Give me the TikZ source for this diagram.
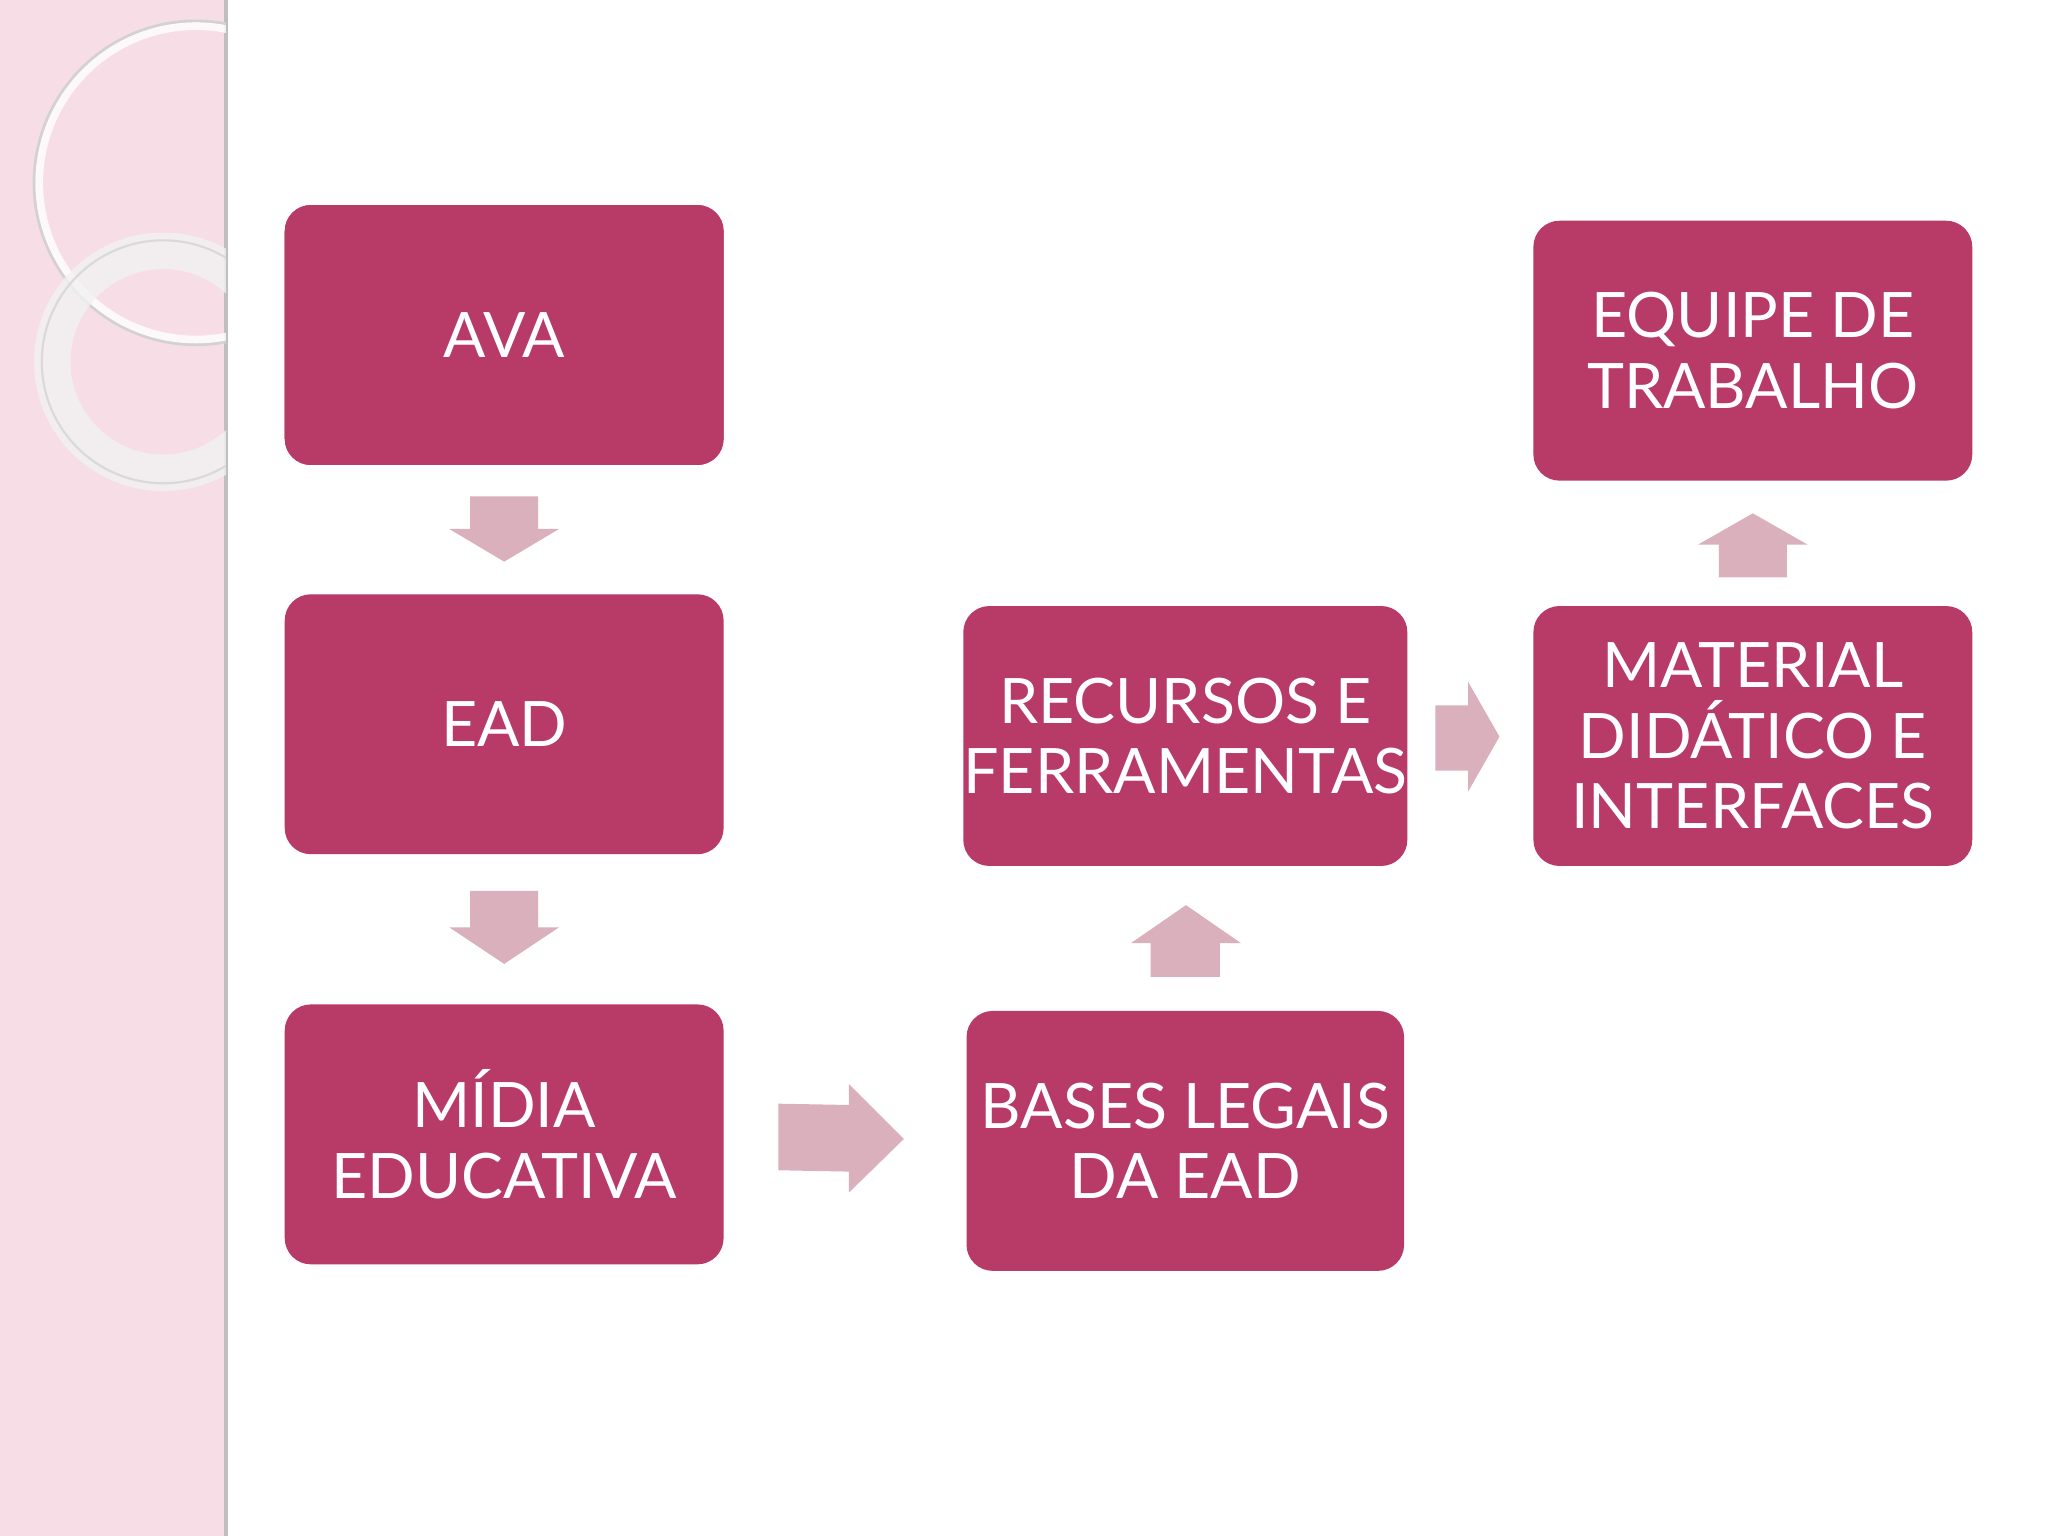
\documentclass[tikz,border=0pt]{standalone}
\usepackage{fontspec}
\setmainfont{Lato}
\definecolor{boxc}{HTML}{B83A66}
\definecolor{arrc}{HTML}{D9B0BC}
\definecolor{stripc}{HTML}{F6DDE6}
\begin{document}
\begin{tikzpicture}[x=0.5pt,y=-0.5pt,
  box/.style={fill=boxc,rounded corners=10pt,text=white,align=center,font=\fontsize{24}{27}\selectfont,inner sep=0pt},
  arr/.style={fill=arrc,draw=none}]
\useasboundingbox (0,0) rectangle (1568,1176);
\fill[white] (0,0) rectangle (1568,1176);
\fill[stripc] (0,0) rectangle (173,1176);
\draw[gray!50,line width=1.5pt] (173,0) -- (173,1176);
\begin{scope}
\clip (0,0) rectangle (173,1176);
\draw[white,line width=3pt,opacity=0.8] (150,140) circle [radius=120];
\draw[gray!35,line width=1pt] (150,140) circle [radius=124];
\draw[white!90!gray,line width=14pt,opacity=0.8] (125,277) circle [radius=85];
\draw[gray!30,line width=0.8pt] (125,277) circle [radius=93];
\end{scope}
\fill[box] (218,157) rectangle (554,356) coordinate (dummy);
\node[box,minimum width=168pt,minimum height=99.5pt] (ava) at (386,256.5) {AVA};
\node[box,minimum width=168pt,minimum height=99.5pt] (ead) at (386,554.5) {EAD};
\node[box,minimum width=168pt,minimum height=99.5pt] (midia) at (386,868.5) {MÍDIA\\EDUCATIVA};
\node[box,minimum width=167.5pt,minimum height=99.5pt] (rec) at (907.5,563.5) {RECURSOS E\\FERRAMENTAS};
\node[box,minimum width=167.5pt,minimum height=99.5pt] (bases) at (907.5,873.5) {BASES LEGAIS\\DA EAD};
\node[box,minimum width=168pt,minimum height=99.5pt] (equipe) at (1342,268.5) {EQUIPE DE\\TRABALHO};
\node[box,minimum width=168pt,minimum height=99.5pt] (mat) at (1342,563.5) {MATERIAL\\DIDÁTICO E\\INTERFACES};
% arrows
\fill[arr] (360,380) -- (412,380) -- (412,405) -- (428,405) -- (386,430) -- (344,405) -- (360,405) -- cycle;
\fill[arr] (360,682) -- (412,682) -- (412,710) -- (428,710) -- (386,738) -- (344,710) -- (360,710) -- cycle;
\fill[arr] (596,845) -- (650,846) -- (650,830) -- (692,872) -- (650,913) -- (650,897) -- (596,896) -- cycle;
\fill[arr] (881,748) -- (934,748) -- (934,722) -- (950,722) -- (908,693) -- (866,722) -- (881,722) -- cycle;
\fill[arr] (1099,540) -- (1124,540) -- (1124,522) -- (1148,564) -- (1124,606) -- (1124,590) -- (1099,590) -- cycle;
\fill[arr] (1316,442) -- (1368,442) -- (1368,417) -- (1384,417) -- (1342,393) -- (1300,417) -- (1316,417) -- cycle;
\end{tikzpicture}
\end{document}
